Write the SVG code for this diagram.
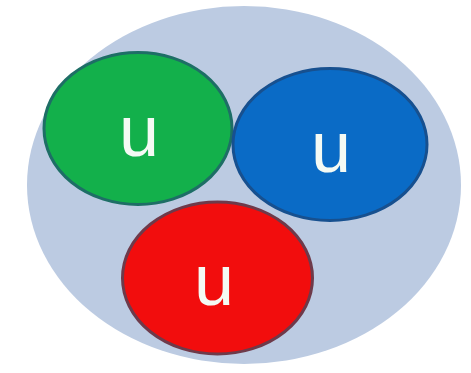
<svg xmlns="http://www.w3.org/2000/svg" width="471" height="373" viewBox="0 0 471 373">
<style>
.q{stroke-width:3}
.t{font-family:"Liberation Sans",Arial,sans-serif;font-size:72px;fill:#f4faf4;text-anchor:middle}
</style>
<rect width="471" height="373" fill="#ffffff"/>
<g id="proton"><ellipse cx="244" cy="185" rx="217" ry="179" fill="#bccbe2"/></g>
<g id="quark-green"><ellipse class="q" cx="138" cy="128.5" rx="94" ry="76" fill="#13b04b" stroke="#1e6e66"/><text class="t" x="139" y="156">u</text></g>
<g id="quark-blue"><ellipse class="q" cx="330" cy="144.5" rx="97" ry="76" fill="#0a6bc6" stroke="#17508f"/><text class="t" x="331" y="172">u</text></g>
<g id="quark-red"><ellipse class="q" cx="217.5" cy="278" rx="95" ry="76" fill="#f20d0d" stroke="#6e3a4a"/><text class="t" x="214" y="305">u</text></g>
<g id="connectors"/>
</svg>
